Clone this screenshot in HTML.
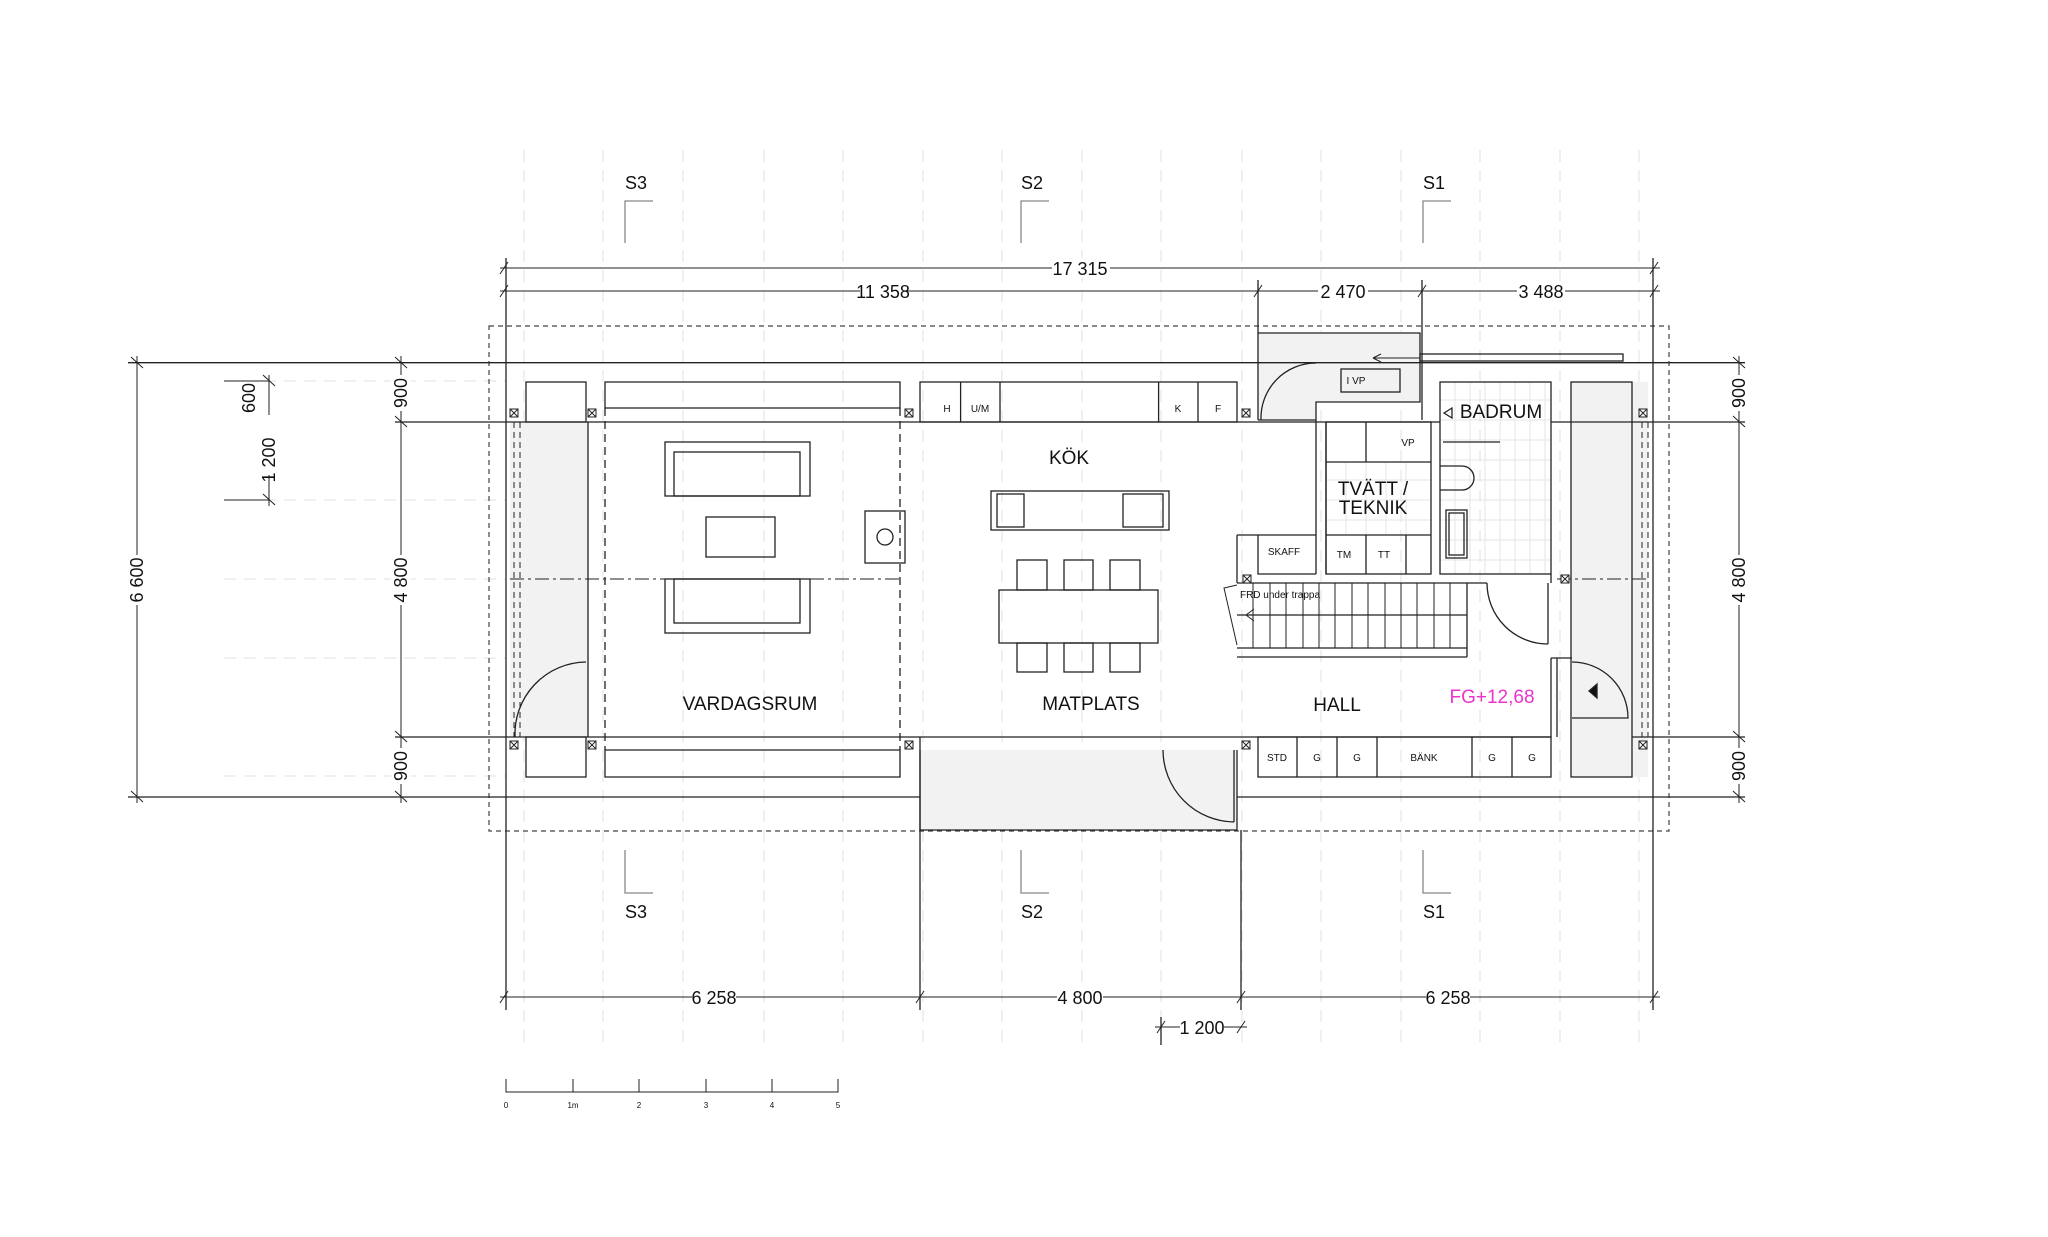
<!DOCTYPE html>
<html><head><meta charset="utf-8"><style>
html,body{margin:0;padding:0;background:#fff}
svg{display:block}
text{font-family:"Liberation Sans",sans-serif;fill:#111}
</style></head><body>
<svg width="2048" height="1237" viewBox="0 0 2048 1237" xmlns="http://www.w3.org/2000/svg">
<defs>
<g id="p"><rect x="-4" y="-4" width="8" height="8"/><path d="M-4 -4L4 4M4 -4L-4 4"/></g>
</defs>
<rect width="2048" height="1237" fill="#fff"/>
<g stroke="#e2e2e2" stroke-width="1" stroke-dasharray="12 8" fill="none">
<path d="M524 150V1050M603 150V1050M683 150V1050M764 150V1050M843 150V1050M923 150V1050M1002 150V1050M1082 150V1050M1161 150V1050M1242 150V1050M1321 150V1050M1401 150V1050M1480 150V1050M1560 150V1050M1639 150V1050"/>
<path d="M224 381H506M224 500H506M224 579H506M224 658H506M224 776H506"/>
</g>
<rect x="489" y="326" width="1180" height="505" fill="none" stroke="#444" stroke-width="1.2" stroke-dasharray="5 4"/>
<g fill="#f2f2f2" stroke="none">
<rect x="510" y="422" width="78" height="315"/>
<rect x="1571" y="382" width="77" height="395"/>
<rect x="920" y="750" width="317" height="80"/>
<polygon points="1258,333 1420,333 1420,402 1316,402 1316,420 1258,420"/>
</g>
<g stroke="#e6e6e6" stroke-width="1">
<path d="M1440 400H1551M1440 420H1551M1440 440H1551M1440 460H1551M1440 480H1551M1440 500H1551M1440 520H1551M1440 540H1551M1440 560H1551"/>
<path d="M1455 382V574M1470 382V574M1485 382V574M1500 382V574M1515 382V574M1530 382V574M1545 382V574"/>
<path d="M1326 480H1431M1326 500H1431M1326 520H1431M1346 462V535M1366 462V535M1386 462V535M1406 462V535"/>
</g>
<g fill="none" stroke="#222" stroke-width="1.3">
<path d="M128 362.7H1745M395 422H1440M395 737H1551M128 797H920M1237 797H1745"/>
<path d="M1551 422H1745M1632 737H1745"/>
<path d="M506 258V1010M1653 258V1010M1258 280V420M1422 280V420M920 737V1010M1241 830V1010M1161 1017V1045"/>
<path d="M920 750V830H1237V750"/>
<rect x="526" y="382" width="60" height="40"/>
<rect x="526" y="737" width="60" height="40"/>
<path d="M605 382H900V408H605ZM605 750H900V777H605Z"/>
<path d="M605 408V750M900 408V750" stroke-dasharray="8 5"/>
<rect x="920" y="382" width="317" height="40"/>
<path d="M960.6 382V422M1000 382V422M1158.6 382V422M1198 382V422"/>
<rect x="665" y="442" width="145" height="54"/><rect x="674" y="452" width="126" height="44"/>
<rect x="706" y="517" width="69" height="40"/>
<rect x="665" y="579" width="145" height="54"/><rect x="674" y="579" width="126" height="44"/>
<rect x="865" y="511" width="40" height="52"/><circle cx="885" cy="537" r="8"/>
<rect x="991" y="491" width="178" height="39"/>
<rect x="997" y="494" width="27" height="33"/><rect x="1123" y="494" width="40" height="33"/>
<rect x="1017" y="560" width="30" height="30"/><rect x="1064" y="560" width="29" height="30"/><rect x="1110" y="560" width="30" height="30"/>
<rect x="999" y="590" width="159" height="53"/>
<rect x="1017" y="643" width="30" height="29"/><rect x="1064" y="643" width="29" height="29"/><rect x="1110" y="643" width="30" height="29"/>
<path d="M514 422V737M520 422V737" stroke-dasharray="6 4" stroke-width="1"/>
<path d="M588 422V737"/>
<path d="M510 579H900" stroke-dasharray="14 4 3 4" stroke-width="1"/>
<path d="M515 737A72 72 0 0 1 586 662"/>
<path d="M920 737H1237" stroke-dasharray="8 5" stroke-width="1"/>
<path d="M1234 750V822M1234 822A72 72 0 0 1 1163 750"/>
<path d="M1258 333H1420V402H1316V420M1258 420H1316"/>
<rect x="1341" y="369" width="59" height="23"/>
<path d="M1261 420A55 55 0 0 1 1316 363"/>
<rect x="1420" y="354" width="203" height="7"/>
<path d="M1373 358H1420M1373 358l8 -4M1373 358l8 4" stroke-width="1"/>
<rect x="1440" y="382" width="111" height="192"/>
<path d="M1443 442H1500"/>
<path d="M1440 466H1462A12 12 0 0 1 1462 490H1440"/>
<rect x="1446" y="510" width="21" height="48"/><rect x="1449" y="513" width="15" height="42"/>
<path d="M1444 413l8 -5v10z" fill="#fff"/>
<path d="M1316 420V574M1326 422V574"/>
<rect x="1326" y="422" width="105" height="152"/>
<path d="M1326 462H1431M1326 535H1431M1366 422V462M1366 535V574M1406 535V574"/>
<path d="M1237 535V583M1237 535H1316M1258 535V574H1316"/>
<path d="M1237 583H1487M1237 648H1467M1237 657H1467M1467 583V657M1237 615H1467"/>
<path d="M1253 583V648M1270 583V648M1286 583V648M1303 583V648M1319 583V648M1335 583V648M1352 583V648M1368 583V648M1385 583V648M1401 583V648M1417 583V648M1434 583V648M1450 583V648" stroke-width="1"/>
<path d="M1237 585L1224 588L1237 645M1246 615l8 -6M1246 615l8 6" stroke-width="1"/>
<path d="M1548 583V644M1548 644A61 61 0 0 1 1487 583"/>
<path d="M1551 574V583M1551 658V737M1557 658V737M1551 658H1572"/>
<rect x="1571" y="382" width="61" height="395"/>
<path d="M1642 422V737M1648 422V737" stroke-dasharray="6 4" stroke-width="1"/>
<path d="M1557 579H1648" stroke-dasharray="14 4 3 4" stroke-width="1"/>
<path d="M1572 662A56 56 0 0 1 1628 718H1572"/>
<path d="M1597 684v14l-8 -7z" fill="#111"/>
<rect x="1258" y="737" width="293" height="40"/>
<path d="M1297 737V777M1337 737V777M1377 737V777M1472 737V777M1512 737V777"/>
<path d="M500 268H1660M500 291H1660M1258 291H1422" stroke-width="1"/>
<path d="M500 997H1660M1155 1027H1247" stroke-width="1"/>
<path d="M137 356V803M401 356V803M269 375V506M224 381H269M224 500H269M1739 356V803" stroke-width="1"/>
<path d="M500 274l8 -12M1650 274l8 -12M500 297l8 -12M1254 297l8 -12M1418 297l8 -12M1650 297l8 -12M500 1003l8 -12M916 1003l8 -12M1237 1003l8 -12M1650 1003l8 -12M1157 1033l8 -12M1237 1033l8 -12" stroke-width="1"/>
<path d="M131 357l12 11M131 791l12 11M395 357l12 11M395 416l12 11M395 731l12 11M395 791l12 11M263 375l12 11M263 416l12 11M263 494l12 11M1733 357l12 11M1733 416l12 11M1733 731l12 11M1733 791l12 11" stroke-width="1"/>
<path d="M625 243V201H653M1021 243V201H1049M1423 243V201H1451M625 850V893H653M1021 850V893H1049M1423 850V893H1451" stroke="#888"/>
<path d="M506 1079V1092H838V1079M573 1079V1092M639 1079V1092M706 1079V1092M772 1079V1092" stroke-width="1"/>
</g>
<g fill="#fff" stroke="#222" stroke-width="1">
<use href="#p" x="514" y="413"/><use href="#p" x="592" y="413"/><use href="#p" x="909" y="413"/><use href="#p" x="1246" y="413"/><use href="#p" x="1643" y="413"/>
<use href="#p" x="514" y="745"/><use href="#p" x="592" y="745"/><use href="#p" x="909" y="745"/><use href="#p" x="1246" y="745"/><use href="#p" x="1643" y="745"/>
<use href="#p" x="1247" y="579"/><use href="#p" x="1565" y="579"/>
</g>
<g fill="#fff">
<rect x="1052" y="258" width="58" height="20"/><rect x="860" y="281" width="46" height="20"/><rect x="1318" y="281" width="50" height="20"/><rect x="1517" y="281" width="48" height="20"/>
<rect x="692" y="987" width="44" height="20"/><rect x="1057" y="987" width="46" height="20"/><rect x="1426" y="987" width="44" height="20"/><rect x="1180" y="1017" width="44" height="20"/>
<rect x="127" y="555" width="20" height="50"/><rect x="391" y="555" width="20" height="50"/><rect x="391" y="375" width="20" height="36"/><rect x="391" y="748" width="20" height="36"/>
<rect x="259" y="415" width="20" height="60"/><rect x="1729" y="555" width="20" height="50"/><rect x="1729" y="375" width="20" height="36"/><rect x="1729" y="748" width="20" height="36"/>
</g>
<g font-size="18" text-anchor="middle">
<text x="1080" y="275">17 315</text>
<text x="883" y="298">11 358</text>
<text x="1343" y="298">2 470</text>
<text x="1541" y="298">3 488</text>
<text x="714" y="1004">6 258</text>
<text x="1080" y="1004">4 800</text>
<text x="1448" y="1004">6 258</text>
<text x="1202" y="1034">1 200</text>
<text x="636" y="189">S3</text><text x="1032" y="189">S2</text><text x="1434" y="189">S1</text>
<text x="636" y="918">S3</text><text x="1032" y="918">S2</text><text x="1434" y="918">S1</text>
<text transform="translate(143 580) rotate(-90)">6 600</text>
<text transform="translate(407 580) rotate(-90)">4 800</text>
<text transform="translate(407 393) rotate(-90)">900</text>
<text transform="translate(407 766) rotate(-90)">900</text>
<text transform="translate(255 398) rotate(-90)">600</text>
<text transform="translate(275 460) rotate(-90)">1 200</text>
<text transform="translate(1745 580) rotate(-90)">4 800</text>
<text transform="translate(1745 393) rotate(-90)">900</text>
<text transform="translate(1745 766) rotate(-90)">900</text>
</g>
<g font-size="19" text-anchor="middle">
<text x="750" y="710">VARDAGSRUM</text>
<text x="1091" y="710">MATPLATS</text>
<text x="1069" y="464">KÖK</text>
<text x="1337" y="711">HALL</text>
<text x="1501" y="418">BADRUM</text>
<text x="1373" y="495">TVÄTT /</text>
<text x="1373" y="514">TEKNIK</text>
<text x="1492" y="703" style="fill:#ee33cc">FG+12,68</text>
</g>
<g font-size="10" text-anchor="middle">
<text x="947" y="412">H</text><text x="980" y="412">U/M</text><text x="1178" y="412">K</text><text x="1218" y="412">F</text>
<text x="1408" y="446">VP</text><text x="1356" y="384">I VP</text>
<text x="1284" y="555">SKAFF</text><text x="1344" y="558">TM</text><text x="1384" y="558">TT</text>
<text x="1277" y="761">STD</text><text x="1317" y="761">G</text><text x="1357" y="761">G</text><text x="1424" y="761">BÄNK</text><text x="1492" y="761">G</text><text x="1532" y="761">G</text>
<text x="1280" y="598">FRD under trappa</text>
<text x="506" y="1108" font-size="8">0</text><text x="573" y="1108" font-size="8">1m</text><text x="639" y="1108" font-size="8">2</text><text x="706" y="1108" font-size="8">3</text><text x="772" y="1108" font-size="8">4</text><text x="838" y="1108" font-size="8">5</text>
</g>
</svg>
</body></html>
